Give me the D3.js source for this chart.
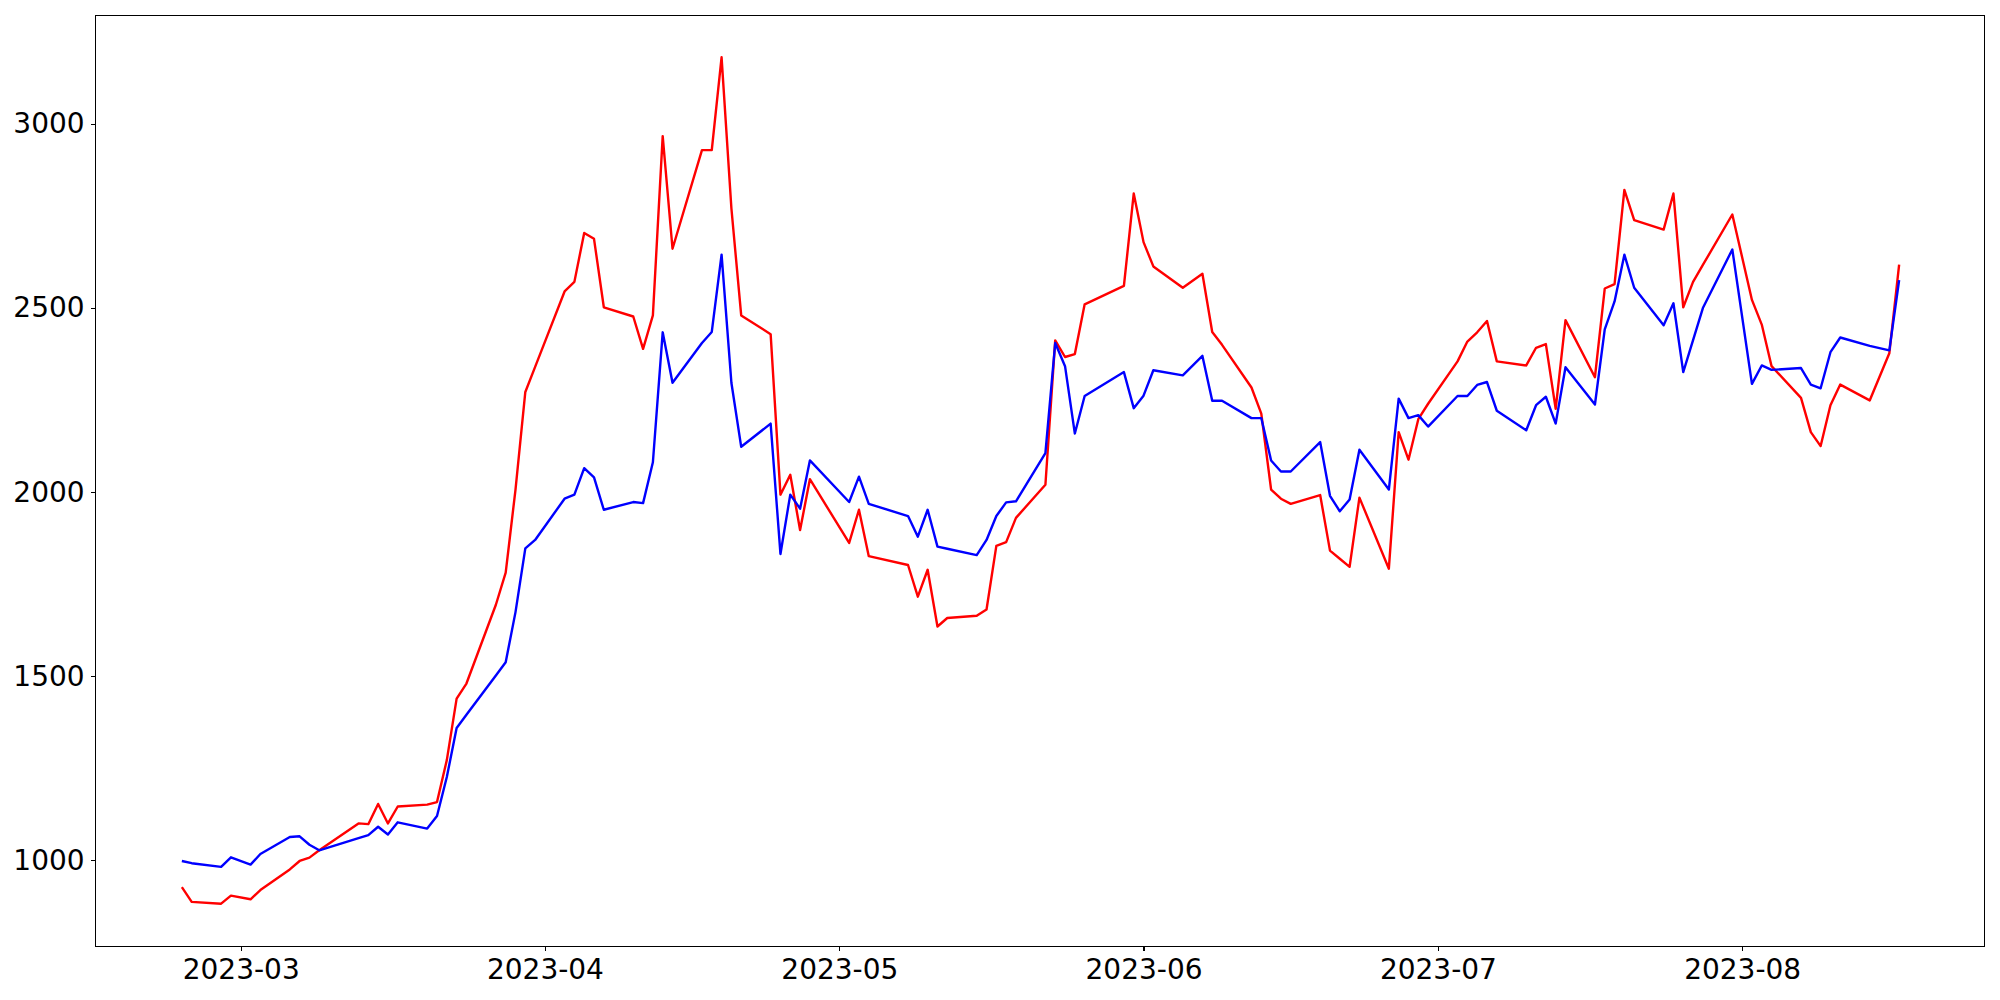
<!DOCTYPE html>
<html>
<head>
<meta charset="utf-8">
<script src="https://cdn.jsdelivr.net/npm/d3@7"></script>
<style>
  html, body { margin: 0; padding: 0; background: #fff; }
  svg { display: block; }
  text { font-family: "DejaVu Sans", sans-serif; fill: #000; }
</style>
</head>
<body>
<svg id="chart" width="2000" height="1000"></svg>
<script>
const dates = [
  "2023-02-23","2023-02-24","2023-02-27","2023-02-28","2023-03-02","2023-03-03",
  "2023-03-06","2023-03-07","2023-03-08","2023-03-09","2023-03-13","2023-03-14",
  "2023-03-15","2023-03-16","2023-03-17","2023-03-20","2023-03-21","2023-03-22",
  "2023-03-23","2023-03-24","2023-03-27","2023-03-28","2023-03-29","2023-03-30",
  "2023-03-31","2023-04-03","2023-04-04","2023-04-05","2023-04-06","2023-04-07",
  "2023-04-10","2023-04-11","2023-04-12","2023-04-13","2023-04-14","2023-04-17",
  "2023-04-18","2023-04-19","2023-04-20","2023-04-21","2023-04-24","2023-04-25",
  "2023-04-26","2023-04-27","2023-04-28","2023-05-02","2023-05-03","2023-05-04",
  "2023-05-08","2023-05-09","2023-05-10","2023-05-11","2023-05-12","2023-05-15",
  "2023-05-16","2023-05-17","2023-05-18","2023-05-19","2023-05-22","2023-05-23",
  "2023-05-24","2023-05-25","2023-05-26","2023-05-30","2023-05-31","2023-06-01",
  "2023-06-02","2023-06-05","2023-06-07","2023-06-08","2023-06-09","2023-06-12",
  "2023-06-13","2023-06-14","2023-06-15","2023-06-16","2023-06-19","2023-06-20",
  "2023-06-21","2023-06-22","2023-06-23","2023-06-26","2023-06-27","2023-06-28",
  "2023-06-29","2023-06-30","2023-07-03","2023-07-04","2023-07-05","2023-07-06",
  "2023-07-07","2023-07-10","2023-07-11","2023-07-12","2023-07-13","2023-07-14",
  "2023-07-17","2023-07-18","2023-07-19","2023-07-20","2023-07-21","2023-07-24",
  "2023-07-25","2023-07-26","2023-07-27","2023-07-28","2023-07-31","2023-08-02",
  "2023-08-03","2023-08-04","2023-08-07","2023-08-08","2023-08-09","2023-08-10",
  "2023-08-11","2023-08-14","2023-08-16","2023-08-17"
];

const redValues = [
  927, 887, 882, 904, 894, 919,
  975, 998, 1007, 1027, 1100, 1098,
  1153, 1100, 1146, 1151, 1158, 1272,
  1439, 1480, 1694, 1781, 2007, 2272,
  2340, 2545, 2571, 2704, 2688, 2502,
  2477, 2389, 2480, 2967, 2661, 2929,
  2929, 3181, 2771, 2480, 2429, 1993,
  2047, 1897, 2035, 1862, 1952, 1826,
  1802, 1716, 1789, 1635, 1658, 1664,
  1681, 1854, 1864, 1930, 2020, 2412,
  2367, 2375, 2510, 2560, 2811, 2679,
  2613, 2555, 2593, 2435, 2400, 2284,
  2213, 2007, 1982, 1968, 1992, 1841,
  1819, 1797, 1985, 1792, 2163, 2088,
  2198, 2240, 2355, 2409, 2434, 2465,
  2355, 2344, 2392, 2402, 2226, 2467,
  2312, 2553, 2565, 2821, 2739, 2713,
  2811, 2502, 2571, 2617, 2754, 2522,
  2455, 2342, 2256, 2163, 2125, 2236,
  2292, 2249, 2377, 2618
];

const blueValues = [
  998, 992, 982, 1008, 988, 1017,
  1063, 1065, 1042, 1027, 1060, 1068,
  1091, 1070, 1103, 1086, 1120, 1226,
  1359, 1395, 1502, 1538, 1674, 1847,
  1870, 1982, 1993, 2065, 2040, 1952,
  1973, 1970, 2081, 2434, 2297, 2405,
  2435, 2645, 2297, 2123, 2186, 1832,
  1993, 1955, 2086, 1973, 2042, 1968,
  1935, 1879, 1952, 1852, 1846, 1829,
  1870, 1935, 1972, 1975, 2106, 2405,
  2342, 2159, 2261, 2326, 2228, 2262,
  2331, 2317, 2370, 2248, 2248, 2201,
  2201, 2086, 2056, 2056, 2136, 1990,
  1948, 1980, 2115, 2007, 2254, 2201,
  2209, 2178, 2261, 2261, 2291, 2299,
  2221, 2168, 2236, 2259, 2186, 2339,
  2238, 2442, 2518, 2645, 2555, 2453,
  2513, 2326, 2413, 2500, 2659, 2294,
  2344, 2332, 2337, 2292, 2282, 2380,
  2420, 2397, 2385, 2576
];

const yTickValues = [1000, 1500, 2000, 2500, 3000];
const xTickLabels = ["2023-03","2023-04","2023-05","2023-06","2023-07","2023-08"];

const seriesList = [
  { name: "red", color: "#ff0000", values: redValues },
  { name: "blue", color: "#0000ff", values: blueValues }
];

const parse = s => { const [y, m, d] = s.split("-").map(Number); return new Date(Date.UTC(y, m - 1, d)); };
const parsedDates = dates.map(parse);

const margin = { left: 96, right: 15, top: 15, bottom: 54 };
const W = 2000, H = 1000;
const x0 = margin.left, x1 = W - margin.right, y0 = margin.top, y1 = H - margin.bottom;

const svg = d3.select("#chart");

// x domain with 5% padding (matplotlib style)
const tExt = d3.extent(parsedDates);
const tPad = (tExt[1] - tExt[0]) * 0.05;
const x = d3.scaleUtc()
  .domain([new Date(+tExt[0] - tPad), new Date(+tExt[1] + tPad)])
  .range([x0, x1]);

const allVals = redValues.concat(blueValues);
const vExt = d3.extent(allVals);
const vPad = (vExt[1] - vExt[0]) * 0.05;
const y = d3.scaleLinear()
  .domain([vExt[0] - vPad, vExt[1] + vPad])
  .range([y1, y0]);

// lines
const line = vals => d3.line()
  .x((d, i) => x(parsedDates[i]))
  .y(d => y(d))(vals);

seriesList.forEach(s => {
  svg.append("path")
    .attr("d", line(s.values))
    .attr("fill", "none")
    .attr("stroke", s.color)
    .attr("stroke-width", 2.4)
    .attr("stroke-linejoin", "round")
    .attr("stroke-linecap", "butt");
});

// axes
const fontSize = 28;
const xTicks = xTickLabels.map(l => parse(l + "-01"));
const xAxis = d3.axisBottom(x)
  .tickValues(xTicks)
  .tickFormat((d, i) => xTickLabels[i])
  .tickSizeInner(4.9)
  .tickSizeOuter(0)
  .tickPadding(8);
const gx = svg.append("g").attr("transform", `translate(0,${y1})`).call(xAxis);
gx.select(".domain").remove();
gx.selectAll("line").attr("stroke", "#000").attr("stroke-width", 1.1).attr("shape-rendering", "crispEdges");
gx.selectAll("text").attr("font-size", fontSize).attr("font-family", "DejaVu Sans").attr("fill", "#000");

const yAxis = d3.axisLeft(y)
  .tickValues(yTickValues)
  .tickFormat(d3.format("d"))
  .tickSizeInner(4.9)
  .tickSizeOuter(0)
  .tickPadding(6.5);
const gy = svg.append("g").attr("transform", `translate(${x0},0)`).call(yAxis);
gy.select(".domain").remove();
gy.selectAll("line").attr("stroke", "#000").attr("stroke-width", 1.1).attr("shape-rendering", "crispEdges");
gy.selectAll("text").attr("font-size", fontSize).attr("font-family", "DejaVu Sans").attr("fill", "#000");

// frame
svg.append("rect")
  .attr("x", x0 - 0.5).attr("y", y0 + 0.5)
  .attr("width", x1 - x0).attr("height", y1 - y0)
  .attr("fill", "none").attr("stroke", "#000").attr("stroke-width", 1.2)
  .attr("shape-rendering", "crispEdges");
</script>
</body>
</html>
